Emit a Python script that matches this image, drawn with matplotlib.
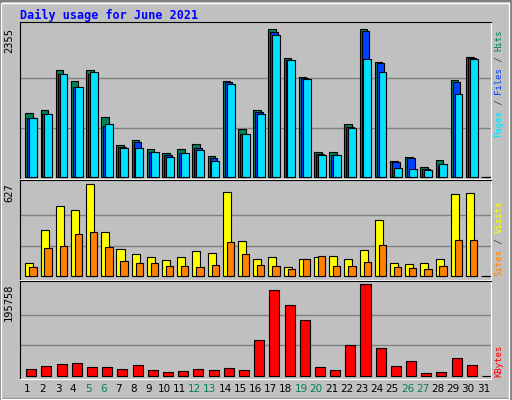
import matplotlib
matplotlib.use("Agg")
import matplotlib.pyplot as plt
from matplotlib.patches import Rectangle

W, H = 512, 400

days = list(range(1, 32))
weekend = [5, 6, 12, 13, 19, 20, 26, 27]

hits = [1012, 1066, 1700, 1524, 1700, 948, 501, 581, 437, 373, 437, 517, 325, 1524, 757,
        1066, 2355, 1891, 1588, 389, 389, 836, 2355, 1827, 245, 309, 149, 261, 1540, 1907, 0]
files = [932, 996, 1636, 1428, 1636, 810, 469, 549, 389, 341, 373, 453, 293, 1508, 677,
         1028, 2307, 1859, 1572, 357, 341, 789, 2323, 1811, 229, 293, 117, 181, 1508, 1891, 0]
pages = [932, 996, 1636, 1428, 1668, 837, 453, 453, 389, 309, 373, 421, 245, 1476, 677,
         996, 2259, 1859, 1556, 341, 341, 773, 1875, 1668, 133, 117, 101, 197, 1316, 1875, 0]
visits = [88, 312, 475, 448, 627, 299, 183, 149, 129, 109, 129, 170, 156, 570, 238,
          115, 129, 61, 115, 129, 136, 115, 176, 380, 88, 81, 88, 115, 557, 564, 0]
sites = [61, 190, 204, 285, 299, 197, 102, 88, 88, 68, 68, 61, 75, 231, 149,
         75, 68, 48, 115, 136, 68, 68, 95, 211, 61, 54, 48, 68, 244, 244, 0]
kbytes = [13574, 20004, 24290, 26434, 17861, 17861, 13574, 22147, 11431, 7144, 9288, 13574,
          11431, 15718, 11431, 75732, 182898, 150748, 118598, 17861, 11431, 65015, 195758,
          58585, 20004, 30721, 5001, 7144, 37151, 22147, 0]

C_HITS, C_FILES, C_PAGES = "#00805C", "#0040FF", "#00E0FF"
C_VISITS, C_SITES, C_KB = "#FFFF00", "#FF8000", "#FF0000"
MONO = "DejaVu Sans Mono"

fig = plt.figure(figsize=(W / 100, H / 100), dpi=100)
fig.patch.set_facecolor("#C0C0C0")

# outer bevel
fig.add_artist(Rectangle((0, 0), 1, 1, transform=fig.transFigure, fill=False,
                         edgecolor="#808080", lw=3))
fig.add_artist(Rectangle((1 / W, 1 / H), 1 - 4 / W, 1 - 4 / H, transform=fig.transFigure,
                         fill=False, edgecolor="white", lw=1))


def fx(px):
    return px / W


def fy(py):
    return 1 - py / H


def panel(top_px, bot_px, base_px, peak_px, vmax):
    ax = fig.add_axes([fx(20), fy(bot_px), fx(491 - 20), (bot_px - top_px) / H])
    ax.set_facecolor("#C0C0C0")
    per_px = vmax / (base_px - peak_px)
    ax.set_ylim(-(bot_px - base_px) * per_px, (base_px - top_px) * per_px)
    ax.set_xlim(0.5, 31.5)
    for f in (1 / 3, 2 / 3):
        ax.axhline(vmax * f, color="#808080", lw=1, zorder=0)
    ax.set_xticks([])
    ax.set_yticks([])
    for s in ax.spines.values():
        s.set_color("black")
    ax.spines["bottom"].set_color("white")
    ax.spines["right"].set_color("white")
    ax.text(-0.013, 1.0 - (peak_px - top_px) / (bot_px - top_px) + 0.01, str(vmax),
            transform=ax.transAxes, rotation=90, ha="right", va="top",
            fontsize=7.5, family=MONO)
    return ax


def bars(ax, off, width, vals, color):
    x = [d + off for d in days]
    ax.bar(x, vals, width=width, align="edge", color=color, edgecolor="black", lw=0.8)


def side_label(parts, bottom_px):
    step = 5.35
    k = 0
    for txt, col in parts:
        fig.text(fx(499), fy(bottom_px - k * step), txt, rotation=90, ha="center",
                 va="bottom", color=col, fontsize=6.5, family=MONO)
        k += len(txt)


ax1 = panel(22, 179, 176.7, 29.3, 2355)
bars(ax1, -0.15, 0.5, hits, C_HITS)
bars(ax1, -0.02, 0.5, files, C_FILES)
bars(ax1, 0.1, 0.52, pages, C_PAGES)
side_label([("Pages", C_PAGES), (" / ", "#404040"), ("Files", C_FILES),
            (" / ", "#404040"), ("Hits", C_HITS)], 137)

ax2 = panel(180, 280, 276.3, 184, 627)
bars(ax2, -0.15, 0.53, visits, C_VISITS)
bars(ax2, 0.11, 0.48, sites, C_SITES)
side_label([("Sites", C_SITES), (" / ", "#404040"), ("Visits", C_VISITS)], 276)

ax3 = panel(281, 379, 375.7, 284.3, 195758)
bars(ax3, -0.09, 0.66, kbytes, C_KB)
side_label([("KBytes", C_KB)], 377)

for d in days:
    col = "#00805C" if d in weekend else "black"
    fig.text(fx(20 + (d - 0.5) * 471 / 31), fy(389), str(d), ha="center", va="center",
             fontsize=7.5, color=col)

fig.text(fx(20), fy(15), "Daily usage for June 2021", ha="left", va="center",
         fontsize=8.5, family=MONO, fontweight="bold", color="#0000FF")

fig.savefig("out.png", dpi=100, facecolor=fig.get_facecolor())
